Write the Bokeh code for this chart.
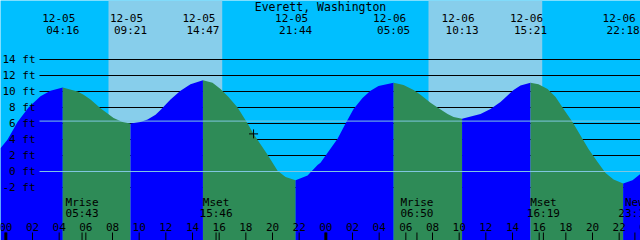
import numpy as np
from bokeh.plotting import figure
from bokeh.models import Range1d
from bokeh.core.properties import value
from bokeh.embed import file_html
from bokeh.resources import INLINE

# ---------------- data ----------------
title = "Everett, Washington"

# hours since 12-05 00:00, tide height in ft
tide_h = [-0.40, 0.13, 0.88, 1.70, 2.60, 3.35, 4.267, 5.38, 5.83, 6.35, 7.10, 8.08, 8.75, 9.35,
          10.10, 10.63, 11.23, 11.60, 12.35, 13.10, 13.85, 14.783, 15.50, 16.10, 16.70, 17.38,
          18.13, 18.58, 19.10, 19.63, 20.38, 20.98, 21.733, 22.63, 23.38, 23.60, 24.20, 24.88,
          25.48, 26.08, 26.75, 27.35, 27.95, 29.083, 29.83, 30.58, 31.10, 31.85, 32.38, 33.13,
          33.58, 34.217, 35.60, 36.35, 37.10, 37.63, 38.08, 38.60, 39.35, 39.95, 40.63, 41.23,
          41.83, 42.50, 43.10, 43.70, 44.38, 44.98, 45.58, 46.30, 47.00, 47.60]
tide_ft = [2.9, 4.0, 6.2, 8.0, 9.4, 10.1, 10.5, 10.0, 9.6, 9.0, 7.9, 6.7, 6.2, 6.0,
           6.2, 6.5, 7.1, 7.7, 9.0, 10.1, 10.9, 11.4, 11.1, 10.3, 9.3, 8.0,
           6.0, 4.7, 3.4, 2.1, 0.1, -0.7, -1.1, -0.5, 0.8, 1.1, 2.5, 4.1,
           6.0, 7.8, 9.2, 10.1, 10.7, 11.1, 10.8, 10.2, 9.6, 8.6, 8.0, 7.2,
           6.8, 6.6, 7.2, 7.8, 8.7, 9.5, 10.2, 10.75, 11.1, 10.9, 10.3, 9.3,
           7.8, 6.2, 4.5, 2.8, 1.2, -0.2, -1.0, -1.5, -1.1, -0.3]

event_h = [4.267, 9.35, 14.783, 21.733, 29.083, 34.217, 39.35, 46.30]
event_date = ["12-05", "12-05", "12-05", "12-05", "12-06", "12-06", "12-06", "12-06"]
event_time = ["04:16", "09:21", "14:47", "21:44", "05:05", "10:13", "15:21", "22:18"]

moon_h = [5.717, 15.767, 30.833, 40.317, 47.18]
moon_name = ["Mrise", "Mset", "Mrise", "Mset", "New"]
moon_time = ["05:43", "15:46", "06:50", "16:19", "23:11"]

sunrise_h = [7.70, 31.70]
sunset_h = [16.23, 40.23]

depth_ft = [14, 12, 10, 8, 6, 4, 2, 0, -2]
depth_labels = [f"{d} ft" for d in depth_ft]

hour_ticks = list(range(0, 50, 2))
hour_labels = [f"{h % 24:02d}" for h in hour_ticks]
midnights = [0, 24, 48]

mean_ft = 6.3
datum_ft = 0.0
now_h, now_ft = 18.58, 4.7

# ---------------- layout ----------------
W, H = 640, 240
X0, X1 = -0.4, 47.6
Y0, Y1 = -8.625, 21.375


def px_x(px):
    return X0 + px / W * (X1 - X0)


def px_y(py):
    return Y1 - py / H * (Y1 - Y0)


NIGHT = "#00bfff"
DAY = "#87ceeb"
RISE = "#0000ff"
FALL = "#2e8b57"
MARK = "#7fc6e0"
FONT = value("DejaVu Sans Mono")

p = figure(width=W, height=H, x_range=Range1d(X0, X1), y_range=Range1d(Y0, Y1),
           output_backend="svg", toolbar_location=None,
           x_axis_location=None, y_axis_location=None, min_border=0,
           background_fill_color=NIGHT, border_fill_color=NIGHT)
p.outline_line_color = None
for g in p.grid:
    g.visible = False

# daylight bands
p.quad(left=sunrise_h, right=sunset_h, bottom=Y0, top=Y1, fill_color=DAY, line_color=None)

# depth grid lines
gutter = px_x(39)
p.segment(x0=[gutter] * len(depth_ft), y0=depth_ft, x1=[X1] * len(depth_ft), y1=depth_ft,
          line_color="black", line_width=1)

# tide fill, split at highs / lows
th = np.array(tide_h)
tf = np.array(tide_ft)
bounds = [th[0]] + event_h + [th[-1]]
for a, b in zip(bounds[:-1], bounds[1:]):
    m = (th >= a - 1e-6) & (th <= b + 1e-6)
    xs, ys = th[m], tf[m]
    color = FALL if ys[0] > ys[-1] else RISE
    p.varea(x=xs, y1=Y0, y2=ys, fill_color=color)

# datum and mean level lines
p.segment(x0=[gutter, gutter], y0=[datum_ft, mean_ft], x1=[X1, X1], y1=[datum_ft, mean_ft],
          line_color=MARK, line_width=1)

# depth labels
p.text(x=[px_x(35)] * len(depth_ft), y=depth_ft, text=depth_labels, text_align="right",
       text_baseline="middle", text_font=FONT, text_font_size="11px", text_color="black")

# title
p.text(x=[(X0 + X1) / 2], y=[px_y(6)], text=[title], text_align="center",
       text_baseline="middle", text_font=FONT, text_font_size="11.5px", text_color="black")

# tide event labels
p.text(x=event_h, y=[px_y(17)] * len(event_h), text=event_date, x_offset=-4,
       text_align="center", text_baseline="middle", text_font=FONT,
       text_font_size="11px", text_color="black")
p.text(x=event_h, y=[px_y(30)] * len(event_h), text=event_time,
       text_align="center", text_baseline="middle", text_font=FONT,
       text_font_size="11px", text_color="black")

# moon event labels
p.text(x=moon_h, y=[px_y(202)] * len(moon_h), text=moon_name,
       text_align="center", text_baseline="middle", text_font=FONT,
       text_font_size="11px", text_color="black")
p.text(x=moon_h, y=[px_y(213)] * len(moon_h), text=moon_time,
       text_align="center", text_baseline="middle", text_font=FONT,
       text_font_size="11px", text_color="black")

# hour labels and ticks
p.text(x=hour_ticks, y=[px_y(226)] * len(hour_ticks), text=hour_labels,
       text_align="center", text_baseline="middle", text_font=FONT,
       text_font_size="11px", text_color="black")
p.segment(x0=hour_ticks, y0=[px_y(232)] * len(hour_ticks), x1=hour_ticks,
          y1=[Y0] * len(hour_ticks), line_color="black", line_width=1)
p.segment(x0=moon_h, y0=[px_y(232)] * len(moon_h), x1=moon_h,
          y1=[Y0] * len(moon_h), line_color="black", line_width=1)
p.segment(x0=midnights, y0=[px_y(232)] * len(midnights), x1=midnights,
          y1=[Y0] * len(midnights), line_color="black", line_width=3)

# current time marker
p.scatter(x=[now_h], y=[now_ft], marker="cross", size=9, line_color="black", line_width=1)

open("out.html", "w").write(file_html(p, INLINE))
